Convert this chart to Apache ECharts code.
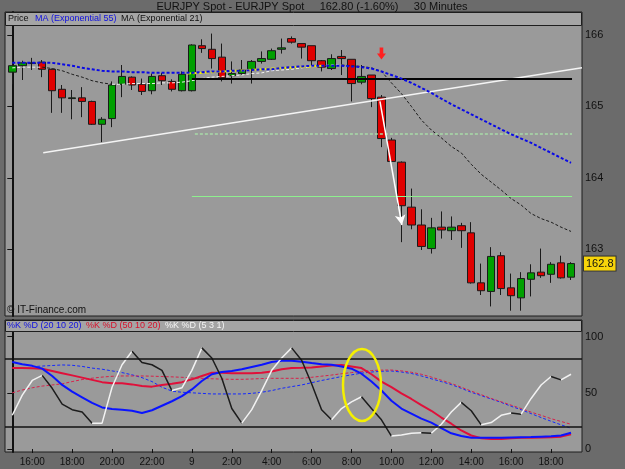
<!DOCTYPE html>
<html>
<head>
<meta charset="utf-8">
<script src="https://cdn.jsdelivr.net/npm/echarts@6/dist/echarts.min.js"></script>
<style>
  html, body { margin: 0; padding: 0; background: #6b6b6b; }
  #chart { width: 625px; height: 469px; }
</style>
</head>
<body>
<div id="chart"></div>
<script>
// 30 minute bars, 15:00 -> 19:00 next day
const times = ['15:00','15:30','16:00','16:30','17:00','17:30','18:00','18:30','19:00','19:30',
  '20:00','20:30','21:00','21:30','22:00','22:30','23:00','23:30','0:00','0:30',
  '1:00','1:30','2:00','2:30','3:00','3:30','4:00','4:30','5:00','5:30',
  '6:00','6:30','7:00','7:30','8:00','8:30','9:00','9:30','10:00','10:30',
  '11:00','11:30','12:00','12:30','13:00','13:30','14:00','14:30','15:00','15:30',
  '16:00','16:30','17:00','17:30','18:00','18:30','19:00']

const open = [165.48,165.57,165.60,165.62,165.52,165.24,165.11,165.12,165.07,164.75,
  164.83,165.31,165.41,165.31,165.22,165.43,165.35,165.22,165.22,165.85,
  165.80,165.69,165.43,165.46,165.52,165.63,165.66,165.80,165.95,165.88,
  165.85,165.64,165.53,165.70,165.66,165.34,165.44,165.13,164.53,164.22,
  163.59,163.34,163.01,163.31,163.26,163.33,163.23,162.53,162.41,162.91,
  162.46,162.32,162.58,162.68,162.65,162.81,162.61]
const close = [165.57,165.61,165.61,165.52,165.22,165.12,165.12,165.07,164.75,164.82,
  165.30,165.42,165.30,165.21,165.42,165.36,165.24,165.45,165.86,165.81,
  165.67,165.40,165.46,165.51,165.63,165.67,165.78,165.82,165.90,165.83,
  165.64,165.55,165.67,165.67,165.32,165.42,165.11,164.55,164.23,163.61,
  163.34,163.04,163.30,163.27,163.31,163.26,162.53,162.42,162.90,162.45,
  162.35,162.59,162.67,162.63,162.79,162.60,162.80]
const high = [165.79,165.64,165.68,165.65,165.53,165.30,165.23,165.27,165.08,164.85,
  165.35,165.58,165.42,165.39,165.46,165.47,165.38,165.49,165.87,165.94,
  166.02,165.88,165.63,165.65,165.65,165.77,165.81,165.95,165.98,165.88,
  165.85,165.65,165.73,165.79,165.66,165.58,165.44,165.16,164.56,164.23,
  163.85,163.56,163.44,163.53,163.46,163.37,163.38,162.80,163.03,162.96,
  162.66,162.68,162.79,163.01,162.82,162.91,162.82]
const low = [165.31,165.37,165.51,165.41,164.91,164.91,164.82,164.85,164.74,164.50,
  164.71,165.13,165.23,165.16,165.17,165.30,165.21,165.21,165.21,165.75,
  165.53,165.35,165.32,165.44,165.32,165.60,165.65,165.74,165.88,165.67,
  165.58,165.49,165.51,165.44,165.07,165.31,164.99,164.43,164.22,163.10,
  163.28,162.99,162.94,163.15,163.13,163.02,162.52,162.36,162.20,162.36,
  162.14,162.14,162.34,162.60,162.53,162.59,162.57]

// MA (Exponential 55) and MA (Exponential 21)
const ema55 = [165.61,165.61,165.61,165.61,165.61,165.59,165.57,165.54,165.52,165.50,
  165.49,165.49,165.48,165.48,165.47,165.47,165.47,165.47,165.47,165.48,
  165.49,165.49,165.50,165.50,165.51,165.52,165.52,165.54,165.55,165.56,
  165.57,165.57,165.57,165.57,165.56,165.55,165.53,165.49,165.44,165.39,
  165.33,165.26,165.19,165.11,165.03,164.96,164.89,164.82,164.75,164.68,
  164.61,164.55,164.49,164.42,164.35,164.28,164.21]
const ema21 = [165.54,165.55,165.55,165.55,165.53,165.50,165.45,165.41,165.36,165.33,
  165.31,165.31,165.32,165.32,165.32,165.33,165.33,165.34,165.36,165.39,
  165.41,165.42,165.43,165.44,165.46,165.47,165.50,165.51,165.52,165.54,
  165.56,165.57,165.58,165.58,165.57,165.56,165.54,165.49,165.33,165.18,
  165.00,164.81,164.67,164.56,164.44,164.35,164.19,164.05,163.94,163.83,
  163.71,163.62,163.50,163.43,163.38,163.31,163.25]

// stochastics
const k20 = [77.5,75.5,74,71.5,65,57,51,46,41,37,
  35.5,35,34,32,34.5,38.5,42.5,47,53,60.5,
  66.5,68.5,69.5,71,73,75,77.5,78.5,78.6,77.7,
  76.5,75.5,75,73.5,71.5,67,60,52,43,36,
  31.5,27,23.5,18.5,14,11.5,10,10,10,10,
  10.3,10.5,10.7,11,11.3,12,14.5]
const d20 = [null,null,73.3,73.8,74.3,74.8,74.5,73.5,72,71,
  69.5,68,66,63.5,60,55,51.5,50.5,50,49.5,
  49,49,49,49,49.5,50.5,52,54,55.5,57,
  59,61,62.7,64.5,66,67.5,68.5,69.2,69.4,68.5,
  67.2,65,62.5,60,57.3,54,50.5,47.5,44.5,41.5,
  38,35,31.5,28,24.7,21.5,18.5]
const k50 = [72,72,71.8,71.5,69.5,67.5,65.5,63.5,61.5,59.5,
  58.5,58.5,57.5,56,55.5,57,58,59.5,62,65,
  67.8,67.8,67.5,67.5,67.5,67.8,69,71,72,72.2,
  72.5,73.5,74.2,74.8,73.5,72,66.5,60,55,49.5,
  44.5,39,34,28,22.5,16.5,12,9.5,9,9,
  9.5,10,10.1,10.2,10.5,11,13]
const d50 = [50,52.5,54.5,56,57,58,60,61.8,63,64,
  64.7,65,65,65,64.8,64.5,64.2,63.8,63.3,62.9,
  62.5,62.2,62,62,62.3,62.7,62.9,62.9,62.9,62.9,
  63.8,64.8,65.8,67,68,69,69.8,70.2,70.3,69.5,
  68.3,66.5,64,61.2,58.3,55,51.5,48.3,45,42,
  39,36,32.8,30,27,24.5,22]
const k5 = [30,48,61,65.5,54,40,35,33,23,23,
  55,75,87,77,75,70,52,54.5,70,90,
  81,63,36,23,35,52,70,81,90,79,
  58,35,26,36,42,46.5,36,26,11.5,12.5,
  14,14.5,14,22,33,41.5,34,21.5,23.5,30,
  32,31,45,57,64.5,61.5,66.5]

const xTickIdx = [2,6,10,14,18,22,26,30,34,38,42,46,50,54]
const xTickLabels = ['16:00','18:00','20:00','22:00','9','2:00','4:00','6:00','8:00','10:00','12:00','14:00','16:00','18:00']
const priceTicks = [163,164,165,166]
const oscTicks = [0,50,100]
const oscLevels = [20,80]
const lastPrice = 162.80

// hand drawn annotations, [bar index, value]
const trendLine = [[3.1,164.35],[57.1,165.54]]
const blackLevel = [[18.0,165.384],[56.1,165.384]]
const dashedLevel = [[18.3,164.614],[56.1,164.614]]
const greenLevel = [[18.0,163.742],[56.1,163.742]]
const yellowLine = [[17.5,165.46],[31.1,165.57]]
const dropArrow = [[36.85,165.07],[39.05,163.34]]
const signalArrow = [37.0,165.74]
const ellipseNote = [35.05,57]

const FONT = 'Liberation Sans'

// split a line into rising / falling pieces (white up, black down)
function runs(vals) {
  const out = []
  for (let i = 1; i < vals.length; i++) {
    const up = vals[i] >= vals[i - 1]
    const last = out[out.length - 1]
    if (last && last.up === up) last.end = i
    else out.push({ up: up, start: i - 1, end: i })
  }
  return out
}

function dirSeries(vals, axis, style) {
  return runs(vals).map(r => ({
    type: 'line',
    xAxisIndex: axis,
    yAxisIndex: axis,
    symbol: 'none',
    silent: true,
    z: 4,
    data: vals.slice(r.start, r.end + 1).map((v, k) => [r.start + k, v]),
    lineStyle: Object.assign({ color: r.up ? '#f2f2f2' : '#1c1c1c' }, style)
  }))
}

function seg(pts, lineStyle, extra) {
  return [Object.assign({ coord: pts[0], lineStyle: lineStyle }, extra || {}), { coord: pts[1] }]
}

const xy = arr => arr.map((v, i) => [i, v])

const chart = echarts.init(document.getElementById('chart'))

const option = {
  backgroundColor: '#6b6b6b',
  animation: false,
  textStyle: { fontFamily: FONT },
  grid: [
    { left: 5, right: 43, top: 12, height: 304, show: true, backgroundColor: '#9a9a9a', borderColor: '#1e1e1e', borderWidth: 1 },
    { left: 5, right: 43, top: 320, height: 132, show: true, backgroundColor: '#9a9a9a', borderColor: '#1e1e1e', borderWidth: 1 }
  ],
  xAxis: [
    {
      type: 'value', gridIndex: 0, min: -0.73, max: 57.1,
      axisLine: { show: false }, axisTick: { show: false }, axisLabel: { show: false }, splitLine: { show: false }
    },
    {
      type: 'value', gridIndex: 1, min: -0.73, max: 57.1,
      axisLine: { show: false },
      axisTick: { show: true, customValues: xTickIdx, length: 4, lineStyle: { color: '#111' } },
      axisLabel: {
        customValues: xTickIdx,
        formatter: v => xTickLabels[xTickIdx.indexOf(v)],
        color: '#111', fontSize: 10, margin: 5
      },
      splitLine: { show: false }
    }
  ],
  yAxis: [
    {
      type: 'value', gridIndex: 0, position: 'right', min: 162.066, max: 166.322,
      axisLine: { show: true, lineStyle: { color: '#111', width: 2 } },
      axisTick: { show: true, inside: true, customValues: priceTicks, length: 5, lineStyle: { color: '#111' } },
      axisLabel: { customValues: priceTicks, color: '#111', fontSize: 11, margin: 3 },
      splitLine: { show: false }
    },
    {
      type: 'value', gridIndex: 1, position: 'right', min: -2.67, max: 114.8,
      axisLine: { show: true, lineStyle: { color: '#111', width: 2 } },
      axisTick: { show: true, inside: true, customValues: oscTicks, length: 5, lineStyle: { color: '#111' } },
      axisLabel: { customValues: oscTicks, color: '#111', fontSize: 11, margin: 3 },
      splitLine: { show: false }
    }
  ],
  series: [
    {
      type: 'candlestick',
      xAxisIndex: 0,
      yAxisIndex: 0,
      barWidth: 8,
      encode: { x: 0, y: [1, 2, 3, 4] },
      data: times.map((t, i) => [i, open[i], close[i], low[i], high[i]]),
      itemStyle: {
        color: '#00a000', color0: '#e00000',
        borderColor: '#1a1a1a', borderColor0: '#1a1a1a', borderColorDoji: '#1a1a1a', borderWidth: 1
      },
      z: 2
    },
    {
      name: 'MA (Exponential 55)',
      type: 'line',
      xAxisIndex: 0,
      yAxisIndex: 0,
      symbol: 'none',
      z: 5,
      data: xy(ema55),
      lineStyle: { color: '#0a0ae6', width: 2, type: [3, 2] },
      markLine: {
        silent: true,
        symbol: 'none',
        data: [
          seg(trendLine, { color: '#f4f4f4', width: 1.5, type: 'solid' }, { label: { show: false } }),
          seg(blackLevel, { color: '#050505', width: 2, type: 'solid' }, { label: { show: false } }),
          seg(dashedLevel, { color: '#a8dca8', width: 1.5, type: [3, 2] }, { label: { show: false } }),
          seg(greenLevel, { color: '#8ef08e', width: 1, type: 'solid' }, { label: { show: false } }),
          seg(yellowLine, { color: '#f2f000', width: 2, type: [4, 2] }, { label: { show: false } }),
          [
            { coord: dropArrow[0], symbol: 'none', label: { show: false }, lineStyle: { color: '#ffffff', width: 1.5, type: 'solid' } },
            { coord: dropArrow[1], symbol: 'arrow', symbolSize: [8, 10] }
          ],
          {
            yAxis: lastPrice,
            lineStyle: { color: 'rgba(0,0,0,0)', width: 1 },
            label: {
              show: true, position: 'end', distance: 2,
              formatter: '162.8', color: '#111', fontSize: 11, fontFamily: FONT,
              backgroundColor: '#f7d40a', borderColor: '#333', borderWidth: 1, padding: [2, 2, 1, 2]
            }
          }
        ]
      },
      markPoint: {
        silent: true,
        label: { show: false },
        data: [{
          coord: signalArrow,
          symbol: 'path://M3,0 L7,0 L7,6 L10,6 L5,12 L0,6 L3,6 Z',
          symbolSize: [9, 12],
          itemStyle: { color: '#ff2020' }
        }]
      }
    },
    ...dirSeries(ema21, 0, { width: 1, type: [3, 2] }),
    {
      name: '%D 20', type: 'line', xAxisIndex: 1, yAxisIndex: 1, symbol: 'none', z: 3,
      data: xy(d20), lineStyle: { color: '#1428ff', width: 1, type: [3, 2] }
    },
    {
      name: '%D 50', type: 'line', xAxisIndex: 1, yAxisIndex: 1, symbol: 'none', z: 3,
      data: xy(d50), lineStyle: { color: '#d8204a', width: 1, type: [3, 2] }
    },
    {
      name: '%K 50', type: 'line', xAxisIndex: 1, yAxisIndex: 1, symbol: 'none', z: 3,
      data: xy(k50), lineStyle: { color: '#e0103a', width: 2 }
    },
    {
      name: '%K 20', type: 'line', xAxisIndex: 1, yAxisIndex: 1, symbol: 'none', z: 3,
      data: xy(k20), lineStyle: { color: '#0a14ff', width: 2 },
      markLine: {
        silent: true,
        symbol: 'none',
        label: { show: false },
        lineStyle: { color: '#111', width: 1.5, type: 'solid' },
        data: oscLevels.map(v => ({ yAxis: v }))
      }
    },
    ...dirSeries(k5, 1, { width: 1.5 })
  ],
  graphic: {
    elements: [
      {
        id: 'title', type: 'text', x: 312, y: 1,
        style: {
          text: 'EURJPY Spot - EURJPY Spot     162.80 (-1.60%)     30 Minutes',
          font: '11px ' + FONT, fill: '#111', align: 'center'
        }
      },
      { id: 'strip1', type: 'rect', shape: { x: 5.5, y: 12.5, width: 576, height: 13 }, style: { fill: '#a5a5a5', stroke: '#1e1e1e', lineWidth: 1 }, z: 50 },
      { id: 'lg1', type: 'text', x: 8, y: 14.5, style: { text: 'Price', font: '9px ' + FONT, fill: '#111' }, z: 51 },
      { id: 'lg2', type: 'text', x: 35, y: 14.5, style: { text: 'MA (Exponential 55)', font: '9px ' + FONT, fill: '#1010e0' }, z: 51 },
      { id: 'lg3', type: 'text', x: 121, y: 14.5, style: { text: 'MA (Exponential 21)', font: '9px ' + FONT, fill: '#111' }, z: 51 },
      { id: 'strip2', type: 'rect', shape: { x: 5.5, y: 320.5, width: 576, height: 11 }, style: { fill: '#a5a5a5', stroke: '#1e1e1e', lineWidth: 1 }, z: 50 },
      { id: 'lg4', type: 'text', x: 7, y: 321.5, style: { text: '%K %D (20 10 20)', font: '9px ' + FONT, fill: '#1010e0' }, z: 51 },
      { id: 'lg5', type: 'text', x: 86, y: 321.5, style: { text: '%K %D (50 10 20)', font: '9px ' + FONT, fill: '#d8102a' }, z: 51 },
      { id: 'lg6', type: 'text', x: 165, y: 321.5, style: { text: '%K %D (5 3 1)', font: '9px ' + FONT, fill: '#f4f4f4' }, z: 51 },
      { id: 'copy', type: 'text', x: 7, y: 305, style: { text: '\u00a9 IT-Finance.com', font: '10px ' + FONT, fill: '#111' }, z: 51 }
    ]
  }
}

chart.setOption(option)

// yellow ellipse drawn around the crossover
const c = chart.convertToPixel({ xAxisIndex: 1, yAxisIndex: 1 }, ellipseNote)
chart.setOption({
  graphic: {
    elements: [{
      id: 'ring', type: 'ellipse', z: 60,
      shape: { cx: c[0], cy: c[1], rx: 19, ry: 36 },
      style: { fill: 'none', stroke: '#f5f000', lineWidth: 2.5 }
    }]
  }
})
</script>
</body>
</html>
